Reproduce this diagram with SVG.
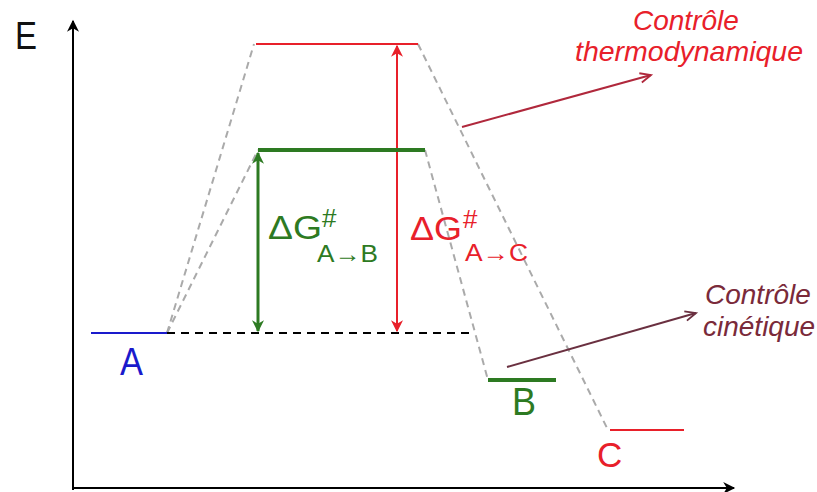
<svg xmlns="http://www.w3.org/2000/svg" width="817" height="492" viewBox="0 0 817 492">
<defs>
<marker id="axh" viewBox="0 0 10 10" refX="9" refY="5" markerWidth="16" markerHeight="12" orient="auto" markerUnits="userSpaceOnUse"><path d="M0,0 L10,5 L0,10 L3,5 z" fill="#000"/></marker>
<marker id="gh" viewBox="0 0 10 10" refX="9" refY="5" markerWidth="16" markerHeight="12" orient="auto-start-reverse" markerUnits="userSpaceOnUse"><path d="M0,0 L10,5 L0,10 L3,5 z" fill="#2d7a22"/></marker>
<marker id="rh" viewBox="0 0 10 10" refX="9" refY="5" markerWidth="16" markerHeight="12" orient="auto-start-reverse" markerUnits="userSpaceOnUse"><path d="M0,0 L10,5 L0,10 L3,5 z" fill="#e8202a"/></marker>
<marker id="oh" viewBox="0 0 10 10" refX="9" refY="5" markerWidth="15" markerHeight="12" orient="auto" markerUnits="userSpaceOnUse"><path d="M0,1 L9,5 L0,9" fill="none" stroke="context-stroke" stroke-width="1.5"/></marker>
</defs>
<style>
text{font-family:"Liberation Sans",Arial,sans-serif}
.path{stroke:#aaaaaa;stroke-width:2;stroke-dasharray:7,5;fill:none}
.it{font-style:italic;font-size:28px}
.lbl{font-size:38px}
</style>
<rect width="817" height="492" fill="#fff"/>
<g id="axes">
<line x1="73" y1="490" x2="73" y2="21" stroke="#000" stroke-width="2" marker-end="url(#axh)"/>
<line x1="72" y1="488" x2="734" y2="488" stroke="#000" stroke-width="2" marker-end="url(#axh)"/>
<text x="15" y="49" font-size="38" textLength="22" lengthAdjust="spacingAndGlyphs" fill="#111">E</text>
</g>
<g id="connectors">
<path class="path" d="M167,333 L254,44"/>
<path class="path" d="M167,333 L258,150"/>
<path class="path" d="M425,150 L488,380"/>
<path class="path" d="M418,44 L608,430"/>
<line x1="167" y1="333" x2="475" y2="333" stroke="#000" stroke-width="2" stroke-dasharray="8,6"/>
<line x1="258" y1="153" x2="258" y2="331" stroke="#2d7a22" stroke-width="3" marker-start="url(#gh)" marker-end="url(#gh)"/>
<line x1="397" y1="46" x2="397" y2="331" stroke="#e8202a" stroke-width="2" marker-start="url(#rh)" marker-end="url(#rh)"/>
<line x1="462" y1="127" x2="651" y2="75" stroke="#b0283c" stroke-width="2" marker-end="url(#oh)"/>
<line x1="507" y1="367" x2="696" y2="313" stroke="#6a3040" stroke-width="2" marker-end="url(#oh)"/>
</g>
<g id="A">
<line x1="91" y1="333" x2="167" y2="333" stroke="#1a1acc" stroke-width="2"/>
<text class="lbl" x="120" y="375" textLength="23" lengthAdjust="spacingAndGlyphs" fill="#1a1acc">A</text>
</g>
<g id="TS-B">
<line x1="258" y1="150" x2="425" y2="150" stroke="#2d7a22" stroke-width="4"/>
</g>
<g id="TS-C">
<line x1="256" y1="44" x2="418" y2="44" stroke="#e8202a" stroke-width="2"/>
</g>
<g id="B">
<line x1="488" y1="380" x2="556" y2="380" stroke="#2d7a22" stroke-width="4"/>
<text class="lbl" x="512" y="415" textLength="24" lengthAdjust="spacingAndGlyphs" fill="#2d7a22">B</text>
</g>
<g id="C">
<line x1="610" y1="430" x2="684" y2="430" stroke="#e8202a" stroke-width="2"/>
<text x="597" y="467" font-size="35" fill="#e8202a">C</text>
</g>
<g id="dG-AB" fill="#2d7a22">
<text x="268" y="239" font-size="33" textLength="54" lengthAdjust="spacingAndGlyphs">ΔG</text>
<text x="322" y="227" font-size="26">#</text>
<text x="317" y="262" font-size="24" textLength="61" lengthAdjust="spacingAndGlyphs">A→B</text>
</g>
<g id="dG-AC" fill="#e8202a">
<text x="410" y="240" font-size="33" textLength="52" lengthAdjust="spacingAndGlyphs">ΔG</text>
<text x="463" y="228" font-size="26">#</text>
<text x="465" y="261" font-size="24" textLength="63" lengthAdjust="spacingAndGlyphs">A→C</text>
</g>
<g id="thermo" fill="#e8202a">
<text class="it" x="633" y="30">Contrôle</text>
<text class="it" x="575" y="61" textLength="228" lengthAdjust="spacingAndGlyphs">thermodynamique</text>
</g>
<g id="cinetique" fill="#7a2a3a">
<text class="it" x="705" y="304">Contrôle</text>
<text class="it" x="703" y="336">cinétique</text>
</g>
</svg>
